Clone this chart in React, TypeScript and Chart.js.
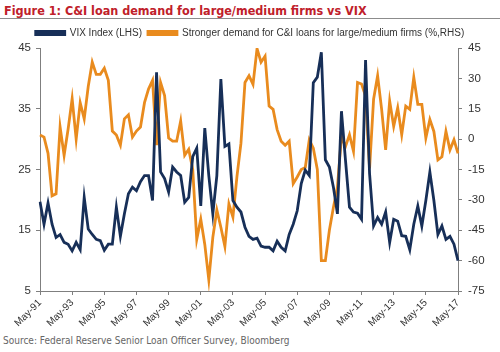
import React, { useEffect, useRef } from "react";
import { Chart, registerables } from "chart.js";

Chart.register(...registerables);

// Quarterly survey dates, May-91 .. May-17
const QUARTER_MONTHS = ["May", "Aug", "Nov", "Feb"];
const quarters: string[] = [];
for (let i = 0; i < 105; i++) {
  const yr = 1991 + Math.floor((i + 1) / 4);
  quarters.push(`${QUARTER_MONTHS[i % 4]}-${String(yr % 100).padStart(2, "0")}`);
}

// VIX Index (LHS)
const vix = [
  19.7, 16, 19.5, 16, 13.8, 14.3, 13, 12.7, 11.6, 13, 11.8, 20.4, 15.2, 14.3, 13.5, 13.3,
  11.7, 12.7, 12.7, 18.8, 14, 17.7, 21, 22.1, 21.5, 23, 24, 24, 19.9, 41, 24.6, 23.5,
  21.3, 25.4, 24.6, 24, 19.6, 20.4, 27.1, 28.5, 19, 31.8, 24, 17.7, 24, 39.9, 28.8, 29.2,
  19.9, 18.8, 18, 15.5, 14, 13.5, 13.7, 12.4, 12.2, 12.2, 11.6, 13.2, 12.2, 11.6, 14.3, 16,
  18.2, 22.7, 24.9, 24, 39.3, 40.2, 44.3, 26.6, 25.4, 22.1, 17.7, 34.6, 26.6, 18.8, 18, 17.8,
  16.8, 43, 24.3, 15.7, 17.1, 16, 18, 13, 16.8, 16.5, 14.1, 14, 11.8, 16, 19, 15.7,
  19.9, 24.6, 19.9, 14.3, 15.7, 13.5, 14, 12.7, 10,
];

// Stronger demand for C&I loans for large/medium firms (%, RHS)
const demand = [
  2, 1, -7, -28, -27, 6, -8, 5, 20, 0, 18, 10, 26, 38, 32, 32,
  35, 29, 4, 2, -3, 10, 12, 1, 4, 6, 18, 24.7, 29, -3, 28, 21.5,
  0.5, -1, -1, 9, -8, -5, -15, -49.5, -39.5, -52, -69.5, -48.5, -35, -43.5, -53, -32,
  -38.5, -18.5, -2, 28, 31.3, 27, 44.7, 38, 41, 16.3, 14.7, 4.7, -1, -3, -1, -22,
  -18.7, -15, -14, -0.3, -4.5, -15, -60, -60, -45, -33.7, -23.7, 1.3, -3.7, 2.2, -6, 28,
  27.2, 21.3, -14.5, 19.7, 31.3, 14.7, -5.3, 18.8, 6.3, 15.5, 2.2, 16.3, 14.7, 30.5, 17.2, 17.2,
  0.5, 9.7, 3.8, -10.3, -8.7, 3.8, -5.3, -0.3, -7,
];

const xTickLabels = quarters.filter((_, i) => i % 8 === 0);

const NAVY = "#172f58";
const ORANGE = "#e98b1e";
const AXIS = "#7f7f7f";
const TEXT = "#333333";
const FONT = "'Liberation Sans', Arial, sans-serif";
const NARROW = "'Liberation Sans Narrow', 'DejaVu Sans Condensed', 'Liberation Sans', Arial, sans-serif";

export default function App() {
  const canvasRef = useRef<HTMLCanvasElement | null>(null);

  useEffect(() => {
    if (!canvasRef.current) return;
    Chart.defaults.font.family = FONT;
    const chart = new Chart(canvasRef.current, {
      type: "line",
      data: {
        labels: quarters,
        datasets: [
          {
            label: "VIX Index (LHS)",
            data: vix,
            borderColor: NAVY,
            backgroundColor: NAVY,
            borderWidth: 2.8,
            pointRadius: 0,
            tension: 0,
            yAxisID: "y",
          },
          {
            label: "Stronger demand for C&I loans for large/medium firms (%,RHS)",
            data: demand,
            borderColor: ORANGE,
            backgroundColor: ORANGE,
            borderWidth: 2.8,
            pointRadius: 0,
            tension: 0,
            yAxisID: "y1",
          },
        ],
      },
      options: {
        animation: false,
        responsive: false,
        maintainAspectRatio: false,
        layout: { padding: { top: 2, left: 0, right: 0, bottom: 0 } },
        plugins: {
          legend: {
            display: true,
            position: "top",
            labels: {
              boxWidth: 29,
              boxHeight: 3,
              padding: 6,
              color: TEXT,
              font: { family: FONT, size: 10 },
            },
          },
          tooltip: { enabled: false },
        },
        scales: {
          x: {
            type: "category",
            offset: false,
            grid: {
              display: true,
              drawOnChartArea: false,
              drawTicks: true,
              tickLength: 4,
              color: (c: any) => (c.index % 8 === 0 ? AXIS : "rgba(0,0,0,0)"),
            },
            border: { display: true, color: AXIS, width: 1 },
            ticks: {
              autoSkip: false,
              maxRotation: 45,
              minRotation: 45,
              padding: 2,
              color: TEXT,
              font: { family: FONT, size: 10 },
              callback: function (this: any, v: any, i: number) {
                const lab = this.getLabelForValue(v);
                return xTickLabels.includes(lab) && i % 8 === 0 ? lab : "";
              },
            },
            afterFit: (s: any) => {
              s.height = 39;
            },
          },
          y: {
            position: "left",
            min: 5,
            max: 45,
            ticks: { stepSize: 10, padding: 5, color: TEXT, font: { family: FONT, size: 11.5 } },
            grid: { drawOnChartArea: false, drawTicks: true, tickLength: 4, color: AXIS },
            border: { display: true, color: AXIS, width: 1 },
            afterFit: (s: any) => {
              s.width = 40;
            },
          },
          y1: {
            position: "right",
            min: -75,
            max: 45,
            ticks: { stepSize: 15, padding: 6, color: TEXT, font: { family: FONT, size: 11.5 } },
            grid: { drawOnChartArea: false, drawTicks: true, tickLength: 4, color: AXIS },
            border: { display: true, color: AXIS, width: 1 },
            afterFit: (s: any) => {
              s.width = 42;
            },
          },
        },
      },
    });
    return () => chart.destroy();
  }, []);

  return (
    <div
      style={{
        position: "fixed",
        top: 0,
        left: 0,
        width: 500,
        height: 352,
        background: "#ffffff",
        overflow: "hidden",
      }}
    >
      <div
        style={{
          position: "absolute",
          top: 3,
          left: 4,
          font: `bold 12.5px ${NARROW}`,
          color: "#c0202a",
          whiteSpace: "nowrap",
        }}
      >
        Figure 1: C&amp;I loan demand for large/medium firms vs VIX
      </div>
      <div
        style={{
          position: "absolute",
          top: 18,
          left: 0,
          width: 500,
          height: 1,
          background: "#8c8c8c",
        }}
      />
      <canvas
        ref={canvasRef}
        width={500}
        height={310}
        style={{ position: "absolute", top: 20, left: 0, width: 500, height: 310 }}
      />
      <div
        style={{
          position: "absolute",
          top: 335,
          left: 3,
          font: `10px ${NARROW}`,
          color: "#666666",
          whiteSpace: "nowrap",
        }}
      >
        Source: Federal Reserve Senior Loan Officer Survey, Bloomberg
      </div>
    </div>
  );
}
